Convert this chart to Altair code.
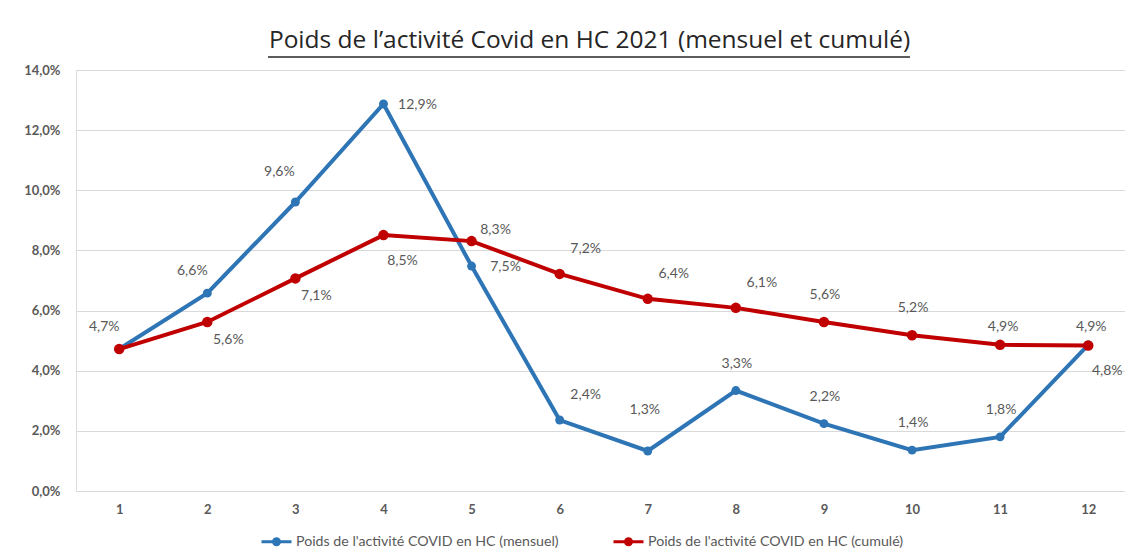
import altair as alt
import pandas as pd

mois = list(range(1, 13))
mensuel = [4.72, 6.58, 9.61, 12.87, 7.48, 2.36, 1.33, 3.34, 2.24, 1.36, 1.80, 4.86]
cumule = [4.72, 5.62, 7.07, 8.51, 8.31, 7.22, 6.39, 6.09, 5.62, 5.18, 4.86, 4.84]
serie_m = "Poids de l'activité COVID en HC (mensuel)"
serie_c = "Poids de l'activité COVID en HC (cumulé)"
pos_mensuel = ["al", "al", "al2", "r", "r", "ar", "a3", "a", "a", "a", "a", "a2"]
pos_cumule = ["", "br", "br", "br2", "ar2", "ar", "ar", "ar", "a", "a", "a2", "br2"]
y_ticks = [0, 2, 4, 6, 8, 10, 12, 14]
titre = "Poids de l’activité Covid en HC 2021 (mensuel et cumulé)"

BLUE = "#2E75B6"
RED = "#C00000"
GREY = "#595959"

rows = []
for i, m in enumerate(mois):
    rows.append({"mois": m, "serie": serie_m, "valeur": mensuel[i], "pos": pos_mensuel[i]})
for i, m in enumerate(mois):
    rows.append({"mois": m, "serie": serie_c, "valeur": cumule[i], "pos": pos_cumule[i]})
df = pd.DataFrame(rows)

fmt = "replace(format(datum.valeur, '.1f'), '.', ',') + '%'"

base = alt.Chart(df).encode(
    x=alt.X("mois:O", scale=alt.Scale(type="point", padding=0.454, align=0.54),
            axis=alt.Axis(title=None, labelAngle=0, grid=False, domain=False, ticks=False,
                          labelFont="Lato", labelFontWeight="bold", labelFontSize=13,
                          labelColor=GREY, labelPadding=12)),
    y=alt.Y("valeur:Q", scale=alt.Scale(domain=[0, 14], nice=False),
            axis=alt.Axis(title=None, values=y_ticks, grid=True, gridColor="#d9d9d9",
                          domain=False, ticks=False, labelFont="Lato", labelFontWeight="bold",
                          labelFontSize=13, labelColor=GREY, labelPadding=16,
                          labelExpr="replace(format(datum.value, '.1f'), '.', ',') + '%'")),
)

sym = ("M-1,0H1M-0.2,0A0.2,0.2 0 1,0 0.2,0A0.2,0.2 0 1,0 -0.2,0"
       "M-0.1,0A0.1,0.1 0 1,0 0.1,0A0.1,0.1 0 1,0 -0.1,0")

lines = base.mark_line(strokeWidth=4).encode(
    color=alt.Color("serie:N",
                    scale=alt.Scale(domain=[serie_m, serie_c], range=[BLUE, RED]),
                    sort=[serie_m, serie_c],
                    legend=alt.Legend(title=None, orient="none", direction="horizontal",
                                      legendX=184, legendY=455,
                                      symbolType=sym, symbolSize=900, symbolStrokeWidth=3,
                                      labelFont="Lato", labelFontSize=14.2, labelColor=GREY,
                                      labelLimit=500, columnPadding=48, labelOffset=3))
)

pts_m = base.transform_filter(alt.datum.serie == serie_m).mark_circle(size=80, opacity=1, color=BLUE)
pts_c = base.transform_filter(alt.datum.serie == serie_c).mark_circle(size=110, opacity=1, color=RED)

offsets = {"al": (-15, -22), "al2": (-16, -30), "a": (1, -27), "a2": (3, -18),
           "a3": (-3, -41), "ar": (26, -25), "ar2": (24, -11), "r": (34, 1),
           "br": (21, 18), "br2": (19, 26)}
texts = []
for p, (ddx, ddy) in offsets.items():
    texts.append(
        base.transform_filter(alt.datum.pos == p)
        .transform_calculate(lab=fmt)
        .mark_text(dx=ddx, dy=ddy, font="Lato", fontSize=14, color=GREY,
                   align="center", baseline="middle")
        .encode(text="lab:N")
    )

deco = pd.DataFrame({"k": [0]})
underline = alt.Chart(deco).mark_rule(color="#262626", strokeWidth=1.5).encode(
    x=alt.value(192), x2=alt.value(834), y=alt.value(-13)
)

chart = alt.layer(lines, pts_m, pts_c, *texts, underline).properties(
    width=1049, height=421,
    autosize=alt.AutoSizeParams(type="none"),
    padding={"left": 68, "top": 62, "right": 0, "bottom": 59},
    title=alt.TitleParams(titre, font="Open Sans", fontSize=24.5, fontWeight="normal",
                          color="#262626", anchor="middle", offset=3, dx=-11),
).configure_view(stroke=None).configure(background="white")

chart.save("out.html", embed_options={"renderer": "svg", "actions": False})
